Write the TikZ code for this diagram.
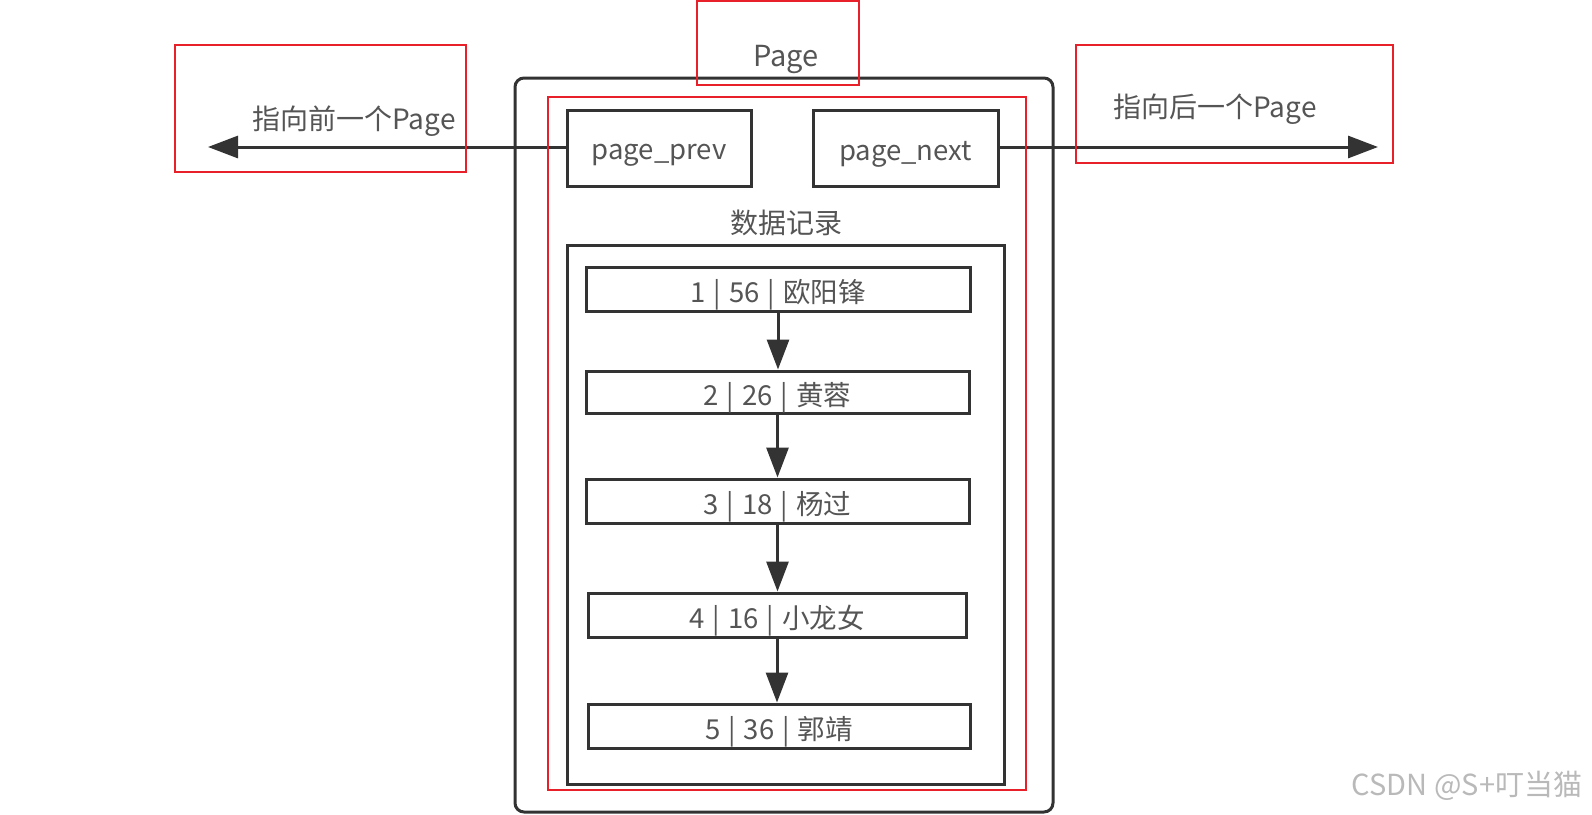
\documentclass[tikz,border=0pt]{standalone}
\usepackage{fontspec}
\setmainfont{Noto Sans CJK SC}
\usetikzlibrary{arrows.meta}
\definecolor{ink}{HTML}{333333}
\definecolor{txt}{HTML}{555555}
\definecolor{hl}{HTML}{E8202A}
\newcommand{\fsep}{\hspace{8pt}|\hspace{8pt}}
\newcommand{\lowtxt}[1]{\raisebox{-6pt}[\height][\depth]{#1}}
\tikzset{
  box/.style={draw=ink, line width=3pt, fill=white, inner sep=0pt, text=txt, font=\fontsize{27.5}{30}\selectfont},
  lbl/.style={text=txt, inner sep=0pt, font=\fontsize{28}{30}\selectfont},
  redbox/.style={draw=hl, line width=1.8pt},
  link/.style={draw=ink, line width=3pt, -{Triangle[length=30pt,width=22pt]}},
}
\begin{document}
\begin{tikzpicture}[x=1pt,y=-1pt]
\useasboundingbox (0,0) rectangle (1592,814);
% outer page box
\node[draw=ink, line width=3pt, rounded corners=9pt, minimum width=538pt, minimum height=734pt, inner sep=0pt] (page) at (784,445) {};
% arrows to neighbouring pages
\coordinate (prevend) at (208,147);
\coordinate (nextend) at (1378,147);
\node[box, minimum width=184pt, minimum height=76pt] (prev) at (659,148) {\raisebox{-7pt}[\height][\depth]{page\_prev}};
\node[box, minimum width=185pt, minimum height=76pt] (next) at (905.5,148) {\raisebox{-6pt}[\height][\depth]{page\_next}};
\draw[link] (prev.west |- prevend) -- (prevend);
\draw[link] (next.east |- nextend) -- (nextend);
% labels
\node[lbl, font=\fontsize{29}{31}\selectfont] (ptitle) at (786,59) {Page};
\node[lbl] (prevlbl) at (354,121) {指向前一个Page};
\node[lbl] (nextlbl) at (1215,109) {指向后一个Page};
\node[lbl] (datalbl) at (786,223) {数据记录};
% data records container
\node[draw=ink, line width=3pt, minimum width=437pt, minimum height=539pt, inner sep=0pt] (data) at (785.5,514.5) {};
\node[box, minimum width=384pt, minimum height=44pt] (r1) at (778,289) {\lowtxt{1\fsep 56\fsep 欧阳锋}};
\node[box, minimum width=383pt, minimum height=42pt] (r2) at (777.5,392) {\lowtxt{2\fsep 26\fsep 黄蓉}};
\node[box, minimum width=383pt, minimum height=44pt] (r3) at (777.5,501) {\lowtxt{3\fsep 18\fsep 杨过}};
\node[box, minimum width=378pt, minimum height=44pt] (r4) at (777,615) {\lowtxt{4\fsep 16\fsep 小龙女}};
\node[box, minimum width=382pt, minimum height=44pt] (r5) at (779,726) {\lowtxt{5\fsep 36\fsep 郭靖}};
\draw[link] (r1.south) -- (r1.south |- r2.north);
\draw[link] (r2.south) -- (r2.south |- r3.north);
\draw[link] (r3.south) -- (r3.south |- r4.north);
\draw[link] (r4.south) -- (r4.south |- r5.north);
% red highlight boxes
\draw[redbox] (175,45) rectangle (466,172);
\draw[redbox] (697,1) rectangle (859,85);
\draw[redbox] (1076,45) rectangle (1393,163);
\draw[redbox] (548,97) rectangle (1026,790);
% watermark
\node[text=gray!55, inner sep=0pt, font=\fontsize{29}{31}\selectfont] (wm) at (1467,786) {CSDN @S+叮当猫};
\end{tikzpicture}
\end{document}
